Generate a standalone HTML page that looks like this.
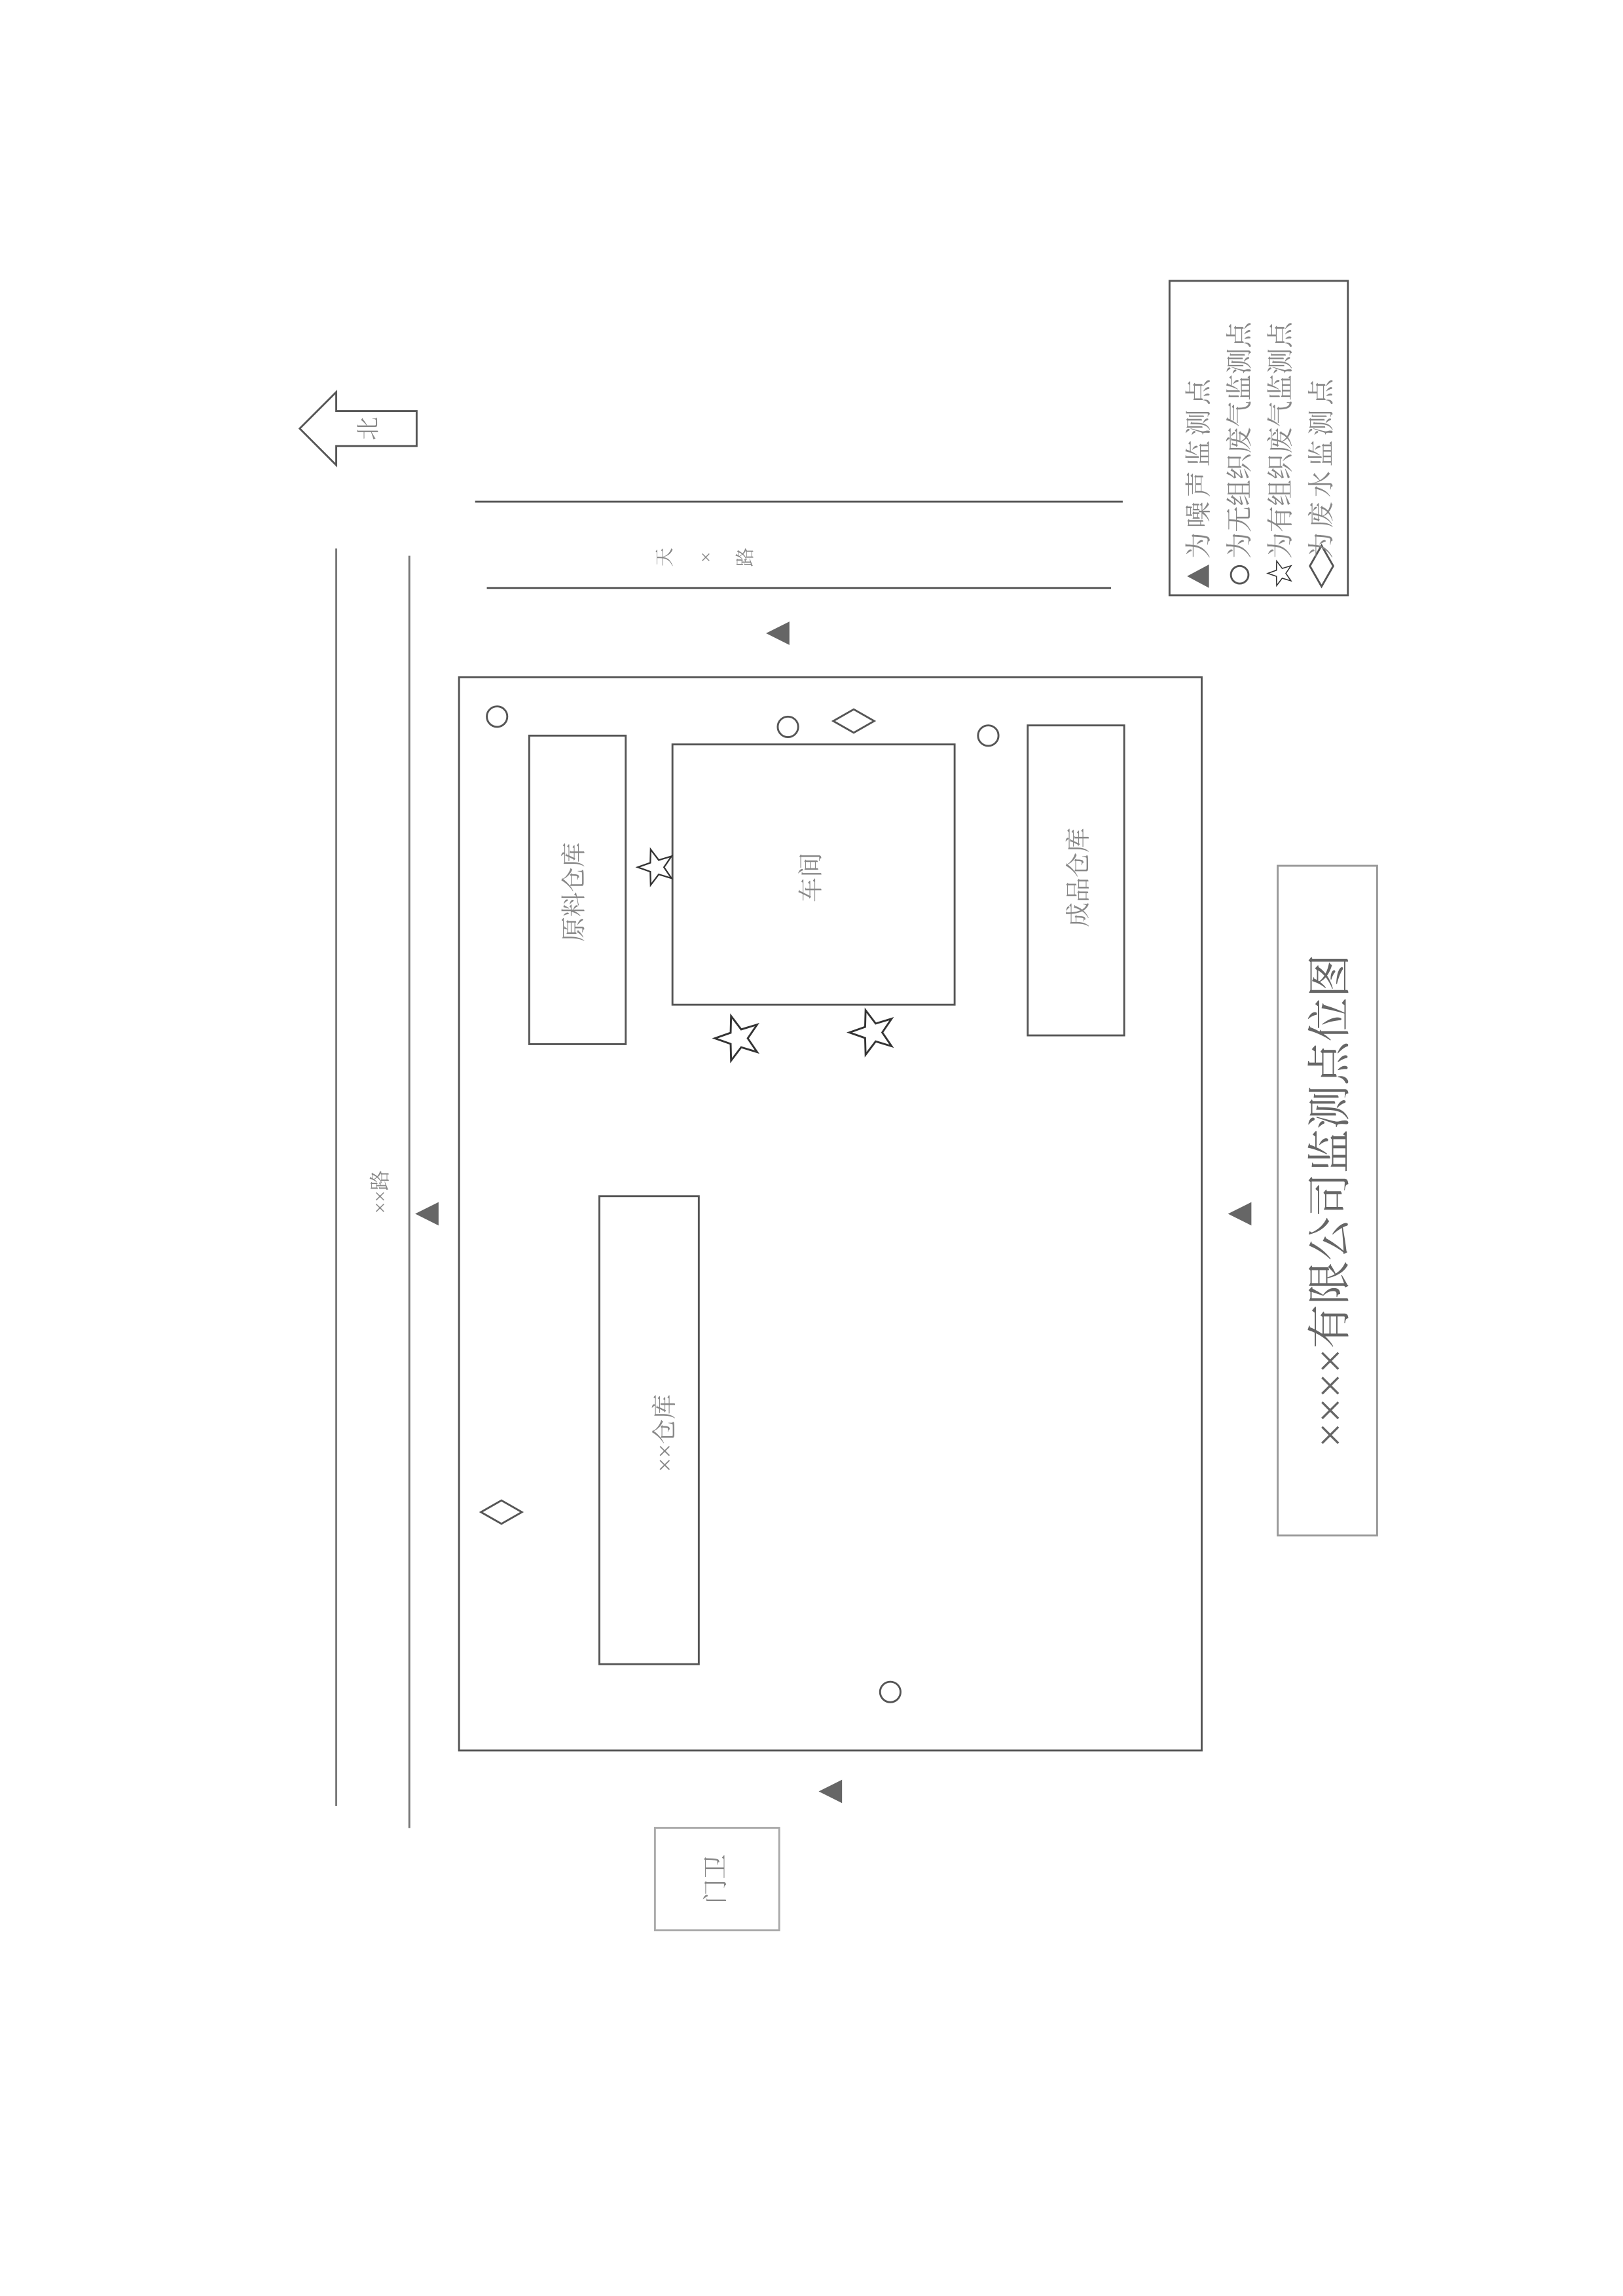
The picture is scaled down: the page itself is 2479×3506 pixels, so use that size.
<!DOCTYPE html>
<html><head><meta charset="utf-8"><style>
html,body{margin:0;padding:0;background:#fff;}
svg{display:block;}
text{font-family:"Liberation Serif","Noto Serif CJK SC","Noto Sans CJK SC",serif;}
</style></head><body>
<svg width="2479" height="3506" viewBox="0 0 1110.2 1570" xmlns="http://www.w3.org/2000/svg">
<defs>
<path id="st" d="M0,-16 L3.8,-5.2 L15.2,-4.9 L6.1,2 L9.4,12.9 L0,6.5 L-9.4,12.9 L-6.1,2 L-15.2,-4.9 L-3.8,-5.2 Z"/>
</defs>
<g fill="none" stroke="#555" stroke-width="1.3">
<path d="M205 293 L230 268 L230 281 L285 281 L285 305 L230 305 L230 318 Z"/>
<line x1="230" y1="375" x2="230" y2="1235" stroke="#777"/>
<line x1="280" y1="380" x2="280" y2="1250" stroke="#777"/>
<line x1="325" y1="343" x2="768" y2="343"/>
<line x1="333" y1="402" x2="760" y2="402"/>
<rect x="314" y="463" width="508" height="734"/>
<rect x="362" y="503" width="66" height="211"/>
<rect x="460" y="509" width="193" height="178"/>
<rect x="703" y="496" width="66" height="212"/>
<rect x="410" y="818" width="68" height="320"/>
<rect x="874" y="592" width="68" height="458" stroke="#999"/>
<rect x="800" y="192" width="122" height="215"/>
<rect x="448" y="1250" width="85" height="70" stroke="#aaa"/>
<circle cx="340" cy="490" r="7"/>
<circle cx="539" cy="497" r="7"/>
<circle cx="676" cy="503" r="7"/>
<circle cx="609" cy="1157" r="7"/>
<path d="M570 493 L584 485 L598 493 L584 501 Z"/>
<path d="M329 1034 L343 1026 L357 1034 L343 1042 Z"/>
<circle cx="848" cy="393" r="6"/>
<path d="M904 381 L912 395 L904 409 L896 395 Z" transform="translate(0,-8)"/>
</g>
<g fill="#fff" stroke="#333" stroke-width="1.3">
<use href="#st" transform="translate(449,593) rotate(-90) scale(0.8)"/>
<use href="#st" transform="translate(505,710) rotate(-90)"/>
<use href="#st" transform="translate(597,706) rotate(-90)"/>
<use href="#st" transform="translate(876,392) rotate(-90) scale(0.55)"/>
</g>
<g fill="#666">
<path d="M524 433 L540 425 L540 441 Z"/>
<path d="M284 830 L300 822 L300 838 Z"/>
<path d="M840 830 L856 822 L856 838 Z"/>
<path d="M560 1225 L576 1217 L576 1233 Z"/>
<path d="M812 394 L827 386 L827 402 Z"/>
</g>
<g fill="#888" text-anchor="middle" dominant-baseline="central">
<text transform="translate(252,293) rotate(-90)" font-size="16">北</text>
<text transform="translate(260,815) rotate(-90)" font-size="14">××路</text>
<text transform="translate(455,381) rotate(-90)" font-size="13">天</text>
<text transform="translate(483,381) rotate(-90)" font-size="13">×</text>
<text transform="translate(510,381) rotate(-90)" font-size="13">路</text>
<text transform="translate(393,610) rotate(-90)" font-size="17">原料仓库</text>
<text transform="translate(555,600) rotate(-90)" font-size="17">车间</text>
<text transform="translate(738,600) rotate(-90)" font-size="17">成品仓库</text>
<text transform="translate(455,980) rotate(-90)" font-size="17">××仓库</text>
<text transform="translate(490,1285) rotate(-90)" font-size="17">门卫</text>
<text transform="translate(910,821) rotate(-90)" font-size="30" fill="#666">××××有限公司监测点位图</text>
</g>
<g fill="#888" font-size="18" dominant-baseline="central">
<text transform="translate(820,382) rotate(-90)" letter-spacing="3">为噪声监测点</text>
<text transform="translate(848,382) rotate(-90)">为无组织废气监测点</text>
<text transform="translate(876,382) rotate(-90)">为有组织废气监测点</text>
<text transform="translate(904,382) rotate(-90)" letter-spacing="3">为废水监测点</text>
</g>
</svg>
</body></html>
